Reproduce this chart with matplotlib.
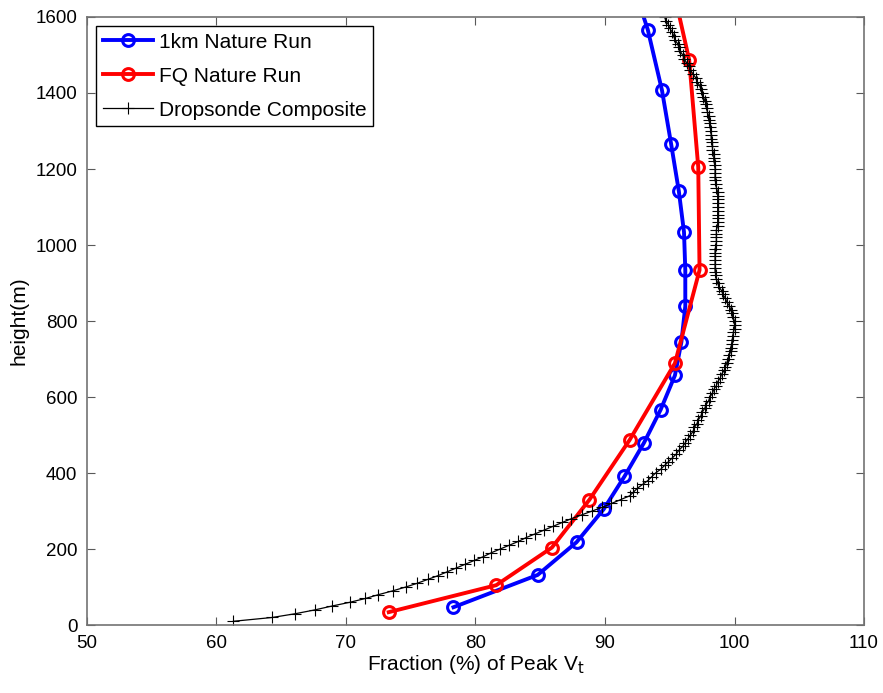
import numpy as np
import matplotlib.pyplot as plt

plt.rcParams['font.family'] = ['Liberation Sans', 'DejaVu Sans']

# 1km nature run (percent of peak Vt, height in m)
h_1km = [47, 132, 218, 305, 391, 479, 567, 657, 745, 839, 934, 1034, 1142, 1267, 1407, 1567, 1745]
v_1km = [78.3, 84.8, 87.8, 89.9, 91.5, 93.0, 94.3, 95.4, 95.9, 96.2, 96.2, 96.1, 95.7, 95.1, 94.4, 93.3, 91.6]

# FQ nature run
h_fq = [34, 105, 204, 330, 487, 689, 934, 1205, 1487, 1790]
v_fq = [73.3, 81.6, 85.9, 88.8, 91.9, 95.4, 97.3, 97.2, 96.5, 94.5]

# dropsonde composite, every 10 m
h_drop = list(range(10, 1610, 10))
v_drop = [61.3, 64.3, 66.1, 67.6, 68.9, 70.3, 71.5, 72.5, 73.6, 74.6,
          75.5, 76.3, 77.1, 77.8, 78.5, 79.2, 79.9, 80.6, 81.2, 81.9,
          82.6, 83.3, 83.9, 84.6, 85.3, 86.0, 86.7, 87.4, 88.2, 89.0,
          89.8, 90.5, 91.2, 91.9, 92.2, 92.5, 92.9, 93.3, 93.6, 93.9,
          94.3, 94.6, 94.9, 95.2, 95.5, 95.7, 96.0, 96.2, 96.4, 96.6,
          96.8, 96.9, 97.1, 97.2, 97.4, 97.5, 97.7, 97.8, 98.0, 98.1,
          98.3, 98.4, 98.6, 98.7, 98.9, 99.0, 99.2, 99.3, 99.4, 99.5,
          99.6, 99.7, 99.7, 99.8, 99.8, 99.9, 99.9, 100.0, 100.0, 100.0,
          99.9, 99.8, 99.7, 99.6, 99.4, 99.3, 99.1, 99.0, 98.8, 98.7,
          98.6, 98.6, 98.5, 98.5, 98.5, 98.5, 98.5, 98.5, 98.5, 98.6,
          98.6, 98.6, 98.6, 98.6, 98.7, 98.7, 98.7, 98.7, 98.7, 98.7,
          98.7, 98.7, 98.7, 98.7, 98.6, 98.6, 98.5, 98.5, 98.5, 98.5,
          98.5, 98.4, 98.4, 98.4, 98.3, 98.3, 98.3, 98.2, 98.2, 98.2,
          98.1, 98.1, 98.0, 98.0, 97.9, 97.9, 97.8, 97.7, 97.6, 97.5,
          97.4, 97.3, 97.1, 97.0, 96.8, 96.6, 96.5, 96.3, 96.1, 96.0,
          95.8, 95.7, 95.6, 95.4, 95.3, 95.2, 95.0, 94.9, 94.7, 94.6]

fig = plt.figure(figsize=(8.83, 6.93), dpi=100)
ax = fig.add_axes([0.0985, 0.098, 0.88, 0.8775])

ax.plot(v_1km, h_1km, '-o', color='#0000ff', lw=2.8, ms=8.5, mfc='none', mew=2.2,
        label='1km Nature Run')
ax.plot(v_fq, h_fq, '-o', color='#ff0000', lw=2.8, ms=8.5, mfc='none', mew=2.2,
        label='FQ Nature Run')
ax.plot(v_drop, h_drop, 'k-+', lw=0.9, ms=9, mew=0.8, label='Dropsonde Composite')

ax.set_xlim(50, 110)
ax.set_ylim(0, 1600)
ax.set_xticks(np.arange(50, 111, 10))
ax.set_yticks(np.arange(0, 1601, 200))
ax.tick_params(direction='in', top=True, right=True, labelsize=13.5, length=6,
               color='0.35', pad=7)
for s in ax.spines.values():
    s.set_color('0.45')
    s.set_linewidth(1.2)

ax.set_xlabel(r'Fraction (%) of Peak V$_\mathrm{t}$', fontsize=15, labelpad=1)
ax.set_ylabel('height(m)', fontsize=15, labelpad=5)

leg = ax.legend(loc='upper left', fontsize=15, fancybox=False, framealpha=1,
                edgecolor='black', handlelength=2.4, borderaxespad=0.45,
                labelspacing=0.72, handletextpad=0.3, borderpad=0.3)
leg.get_frame().set_linewidth(1.0)

fig.savefig('out.png', dpi=100)
